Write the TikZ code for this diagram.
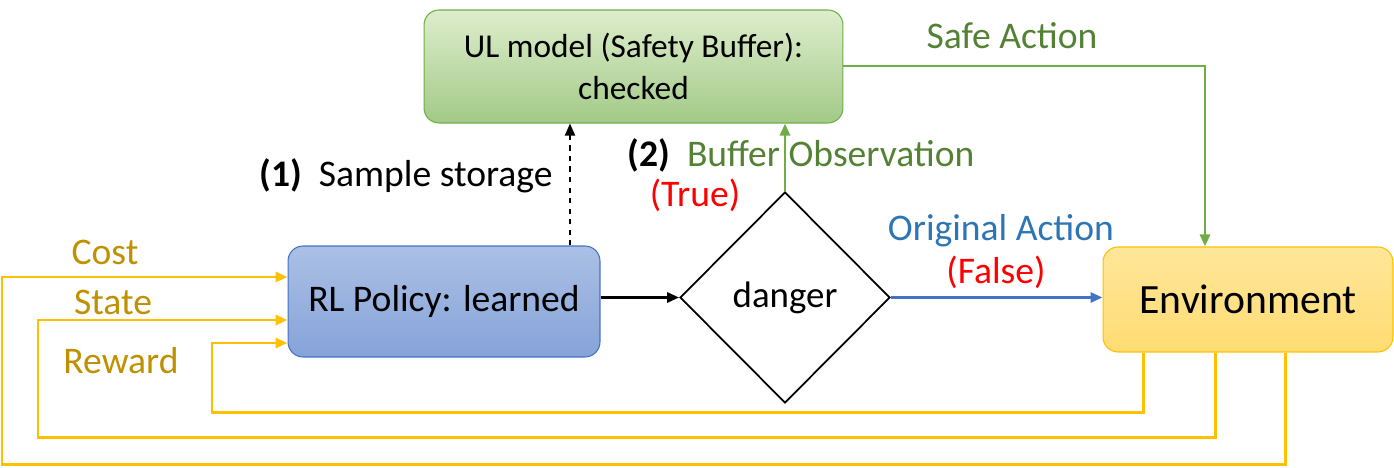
\documentclass[tikz,border=0pt]{standalone}
\usepackage{fontspec}
\setmainfont{Carlito}
\usetikzlibrary{shapes.geometric,arrows.meta}
\definecolor{fbline}{HTML}{FFC000}
\definecolor{fbtext}{HTML}{BF9000}
\definecolor{safeline}{HTML}{70AD47}
\definecolor{safetext}{HTML}{548235}
\definecolor{actline}{HTML}{4472C4}
\definecolor{acttext}{HTML}{2E75B6}

\begin{document}
\begin{tikzpicture}[x=0.02cm, y=-0.02cm,
    box/.style = {draw, rounded corners=0.3cm, align=center, inner sep=0, line width=0.6pt},
    tip/.style = {-{Triangle[length=0.24cm, width=0.2cm]}},
    fb/.style = {draw=fbline, line width=1.7pt, tip},
    lbl/.style = {font=\fontsize{21.4}{25}\selectfont}]
	\useasboundingbox (0,0) rectangle (1394,467);
	\node[box, draw=safeline, top color=green!30!olive!20!white, bottom color=safeline!65, minimum width=8.38cm, minimum height=2.26cm, font=\fontsize{19}{24}\selectfont] (ul) at (633.5,66.5) {UL model (Safety Buffer):\\checked};
	\node[box, draw=actline, top color=actline!45, bottom color=actline!65, minimum width=6.24cm, minimum height=2.22cm, font=\fontsize{21.4}{26}\selectfont] (rl) at (444,301.5) {RL Policy: learned};
	\node[draw, diamond, line width=1pt, inner sep=0, minimum width=4.2cm, minimum height=4.22cm, font=\fontsize{21}{24}\selectfont] (dg) at (785,297.5) {danger};
	\node[box, draw=fbline, top color=fbline!40, bottom color=fbline!55, minimum width=5.8cm, minimum height=2.1cm, font=\fontsize{23.7}{28}\selectfont] (env) at (1248,299.5) {Environment};

	\node[lbl] (l1) at (406,176) {\textbf{(1)}\ \ Sample storage};
	\node[lbl] (l2) at (801,155) {\textbf{(2)}\ \ \textcolor{safetext}{Buffer Observation}};
	\node[lbl, red] (ltrue) at (695,195) {(True)};
	\node[lbl, safetext] (lsafe) at (1012,36) {Safe Action};
	\node[lbl, acttext] (lorig) at (1001,231) {Original Action};
	\node[lbl, red] (lfalse) at (996,272) {(False)};
	\node[lbl, fbtext] (lcost) at (105,252) {Cost};
	\node[lbl, fbtext] (lstate) at (113,302) {State};
	\node[lbl, fbtext] (lreward) at (121,361) {Reward};

	\coordinate (d1) at (570,200);
	\coordinate (c1) at (1205,66);
	\coordinate (r1) at (1143,412);
	\coordinate (r2) at (212,343);
	\coordinate (s1) at (1215,437);
	\coordinate (s2) at (38,320);
	\coordinate (k1) at (1285,464);
	\coordinate (k2) at (2,277);

	\draw[tip, dashed, line width=1.1pt] (rl.north -| d1) -- (ul.south -| d1);
	\draw[tip, draw=safeline, line width=1.6pt] (dg.north) -- (ul.south -| dg.north);
	\draw[tip, draw=safeline, line width=1.6pt] (ul.east |- c1) -| (env.north -| c1);
	\draw[tip, line width=1.6pt] (rl.east |- dg.west) -- (dg.west);
	\draw[tip, draw=actline, line width=1.6pt] (dg.east) -- (env.west |- dg.east);
	\draw[fb] (env.south -| r1) |- (r2 |- r1) -- (r2) -- (rl.west |- r2);
	\draw[fb] (env.south -| s1) |- (s2 |- s1) -- (s2) -- (rl.west |- s2);
	\draw[fb] (env.south -| k1) |- (k2 |- k1) -- (k2) -- (rl.west |- k2);
\end{tikzpicture}
\end{document}
